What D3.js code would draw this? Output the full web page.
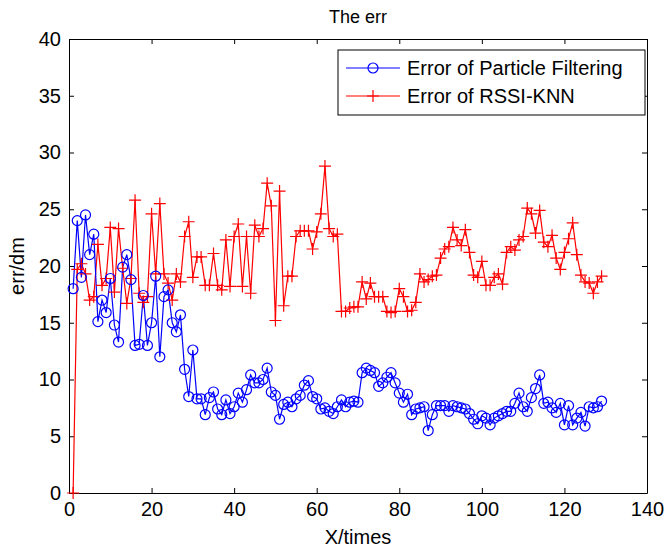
<!DOCTYPE html>
<html>
<head>
<meta charset="utf-8">
<script src="https://cdn.jsdelivr.net/npm/d3@7"></script>
<style>
  body { margin: 0; background: #fff; }
  svg text { font-family: "Liberation Sans", Arial, Helvetica, sans-serif; fill: #000; }
</style>
</head>
<body>
<div id="chart"></div>
<script>
// error of particle filtering, one value per step (x = 1..129)
const pfErr = [
  18, 24, 19, 24.5, 21, 22.8, 15.1, 17, 15.9, 18.9,
  14.8, 13.3, 19.9, 21, 18.8, 13, 13.1, 17.4, 13, 15,
  19.1, 12, 17.3, 17.9, 15, 14.2, 15.7, 10.9, 8.5, 12.6,
  8.3, 8.3, 6.9, 8.4, 8.9, 7.4, 6.9, 8.2, 7, 7.6,
  8.8, 8, 9.1, 10.4, 9.7, 9.7, 10, 11, 8.9, 8.6,
  6.5, 7.8, 8, 7.6, 8.3, 8.6, 9.5, 9.9, 8.5, 8.3,
  7.4, 7.5, 7.2, 7, 7.6, 8.2, 7.6, 8, 8.1, 8,
  10.6, 11, 10.8, 10.6, 9.4, 9.7, 10.2, 10.6, 9.7, 8.8,
  8, 8.7, 6.9, 7.4, 7.5, 7.6, 5.5, 6.9, 7.7, 7.7,
  7.7, 7.2, 7.7, 7.6, 7.5, 7.4, 7, 6.5, 6.1, 6.8,
  6.6, 6, 6.6, 6.8, 7, 7.2, 7.2, 7.9, 8.8, 7.6,
  7.2, 8.4, 9.2, 10.4, 7.9, 8, 7.5, 7.1, 7.9, 6,
  7.7, 6, 6.6, 7.1, 5.9, 7.6, 7.5, 7.6, 8.1
];

// error of RSSI-KNN (x = 1..129)
const knnErr = [
  0, 19.7, 20.2, 19.3, 17, 17.3, 21.9, 18.3, 18.9, 23.4,
  17.7, 23.3, 19.8, 16.7, 18.9, 25.8, 17.6, 16.8, 17.3, 24.6,
  19.3, 25.5, 19.3, 18.5, 17, 19.3, 18.6, 22.6, 23.9, 19,
  20.8, 20.8, 18.3, 18.3, 21.1, 18.3, 17.9, 22.3, 18.2, 22.6,
  23.7, 18.2, 22.6, 17.6, 23.6, 22.6, 23.3, 27.3, 25.3, 15.2,
  26.6, 16.5, 19.1, 19.1, 22.6, 23.1, 23.1, 23.1, 21.5, 23,
  24.6, 28.8, 23.3, 22.6, 22.8, 16, 16, 16.3, 16.4, 16.4,
  18.6, 17.1, 18.5, 17.3, 17.3, 17.3, 16, 15.9, 16, 18,
  17.3, 16, 16.1, 16.8, 19.3, 18.6, 18.8, 19.1, 19.2, 20.7,
  21.5, 21.7, 23.4, 22.3, 21.8, 23.2, 21.2, 19.2, 19, 20.4,
  18.3, 18.3, 19, 19.3, 18.4, 21.2, 21.7, 21.4, 22.3, 22.6,
  25.1, 24.6, 22.9, 24.9, 22.1, 21.7, 22.7, 20.7, 19.7, 21.2,
  22.4, 23.8, 21, 19.2, 18.6, 18.5, 17.6, 18.6, 19.1
];

const xTicks = [0, 20, 40, 60, 80, 100, 120, 140];
const yTicks = [0, 5, 10, 15, 20, 25, 30, 35, 40];
const seriesNames = ["Error of Particle Filtering", "Error of RSSI-KNN"];
const seriesColors = ["#0000ff", "#ff0000"];

const W = 671, H = 551;
const margin = { top: 39, right: 24, bottom: 58, left: 69 };
const width = W - margin.left - margin.right;
const height = H - margin.top - margin.bottom;

const svg = d3.select("#chart").append("svg")
  .attr("width", W)
  .attr("height", H);

const g = svg.append("g")
  .attr("transform", `translate(${margin.left},${margin.top})`);

const x = d3.scaleLinear().domain([0, 140]).range([0, width]);
const y = d3.scaleLinear().domain([0, 40]).range([height, 0]);

// matlab style box with inward ticks on all four sides
function styleAxis(sel) {
  sel.selectAll("path.domain").attr("stroke", "#000").attr("stroke-width", 1);
  sel.selectAll(".tick line").attr("stroke", "#000");
  sel.selectAll(".tick text").style("font-size", "20px");
}

g.append("g")
  .attr("transform", `translate(0,${height})`)
  .call(d3.axisBottom(x).tickValues(xTicks).tickSize(-5).tickSizeOuter(0).tickPadding(9))
  .call(styleAxis);

g.append("g")
  .call(d3.axisTop(x).tickValues(xTicks).tickSize(-5).tickSizeOuter(0).tickFormat(""))
  .call(styleAxis);

g.append("g")
  .call(d3.axisLeft(y).tickValues(yTicks).tickSize(-5).tickSizeOuter(0).tickPadding(8))
  .call(styleAxis);

g.append("g")
  .attr("transform", `translate(${width},0)`)
  .call(d3.axisRight(y).tickValues(yTicks).tickSize(-5).tickSizeOuter(0).tickFormat(""))
  .call(styleAxis);

const line = d3.line()
  .x((d, i) => x(i + 1))
  .y(d => y(d));

// red series is drawn first, blue on top
const allSeries = [pfErr, knnErr];

[1, 0].forEach(k => {
  g.append("path")
    .datum(allSeries[k])
    .attr("fill", "none")
    .attr("stroke", seriesColors[k])
    .attr("stroke-width", 1.2)
    .attr("d", line);
});

// plus markers for knn
g.append("g").selectAll("path")
  .data(knnErr)
  .join("path")
  .attr("d", (d, i) => {
    const cx = x(i + 1), cy = y(d), s = 6;
    return `M${cx - s},${cy}H${cx + s}M${cx},${cy - s}V${cy + s}`;
  })
  .attr("stroke", seriesColors[1])
  .attr("stroke-width", 1.2);

// circle markers for particle filtering
g.append("g").selectAll("circle")
  .data(pfErr)
  .join("circle")
  .attr("cx", (d, i) => x(i + 1))
  .attr("cy", d => y(d))
  .attr("r", 5)
  .attr("fill", "none")
  .attr("stroke", seriesColors[0])
  .attr("stroke-width", 1.2);

// title and axis labels
svg.append("text")
  .attr("x", margin.left + width / 2)
  .attr("y", 23)
  .attr("text-anchor", "middle")
  .style("font-size", "18px")
  .text("The err");

svg.append("text")
  .attr("x", margin.left + width / 2)
  .attr("y", 544)
  .attr("text-anchor", "middle")
  .style("font-size", "20px")
  .text("X/times");

svg.append("text")
  .attr("transform", `translate(24,${margin.top + height / 2}) rotate(-90)`)
  .attr("text-anchor", "middle")
  .style("font-size", "20px")
  .text("err/dm");

// legend
const legend = svg.append("g").attr("transform", "translate(338,50)");
legend.append("rect")
  .attr("width", 307)
  .attr("height", 65)
  .attr("fill", "#fff")
  .attr("stroke", "#000");

seriesNames.forEach((name, k) => {
  const ly = 18 + k * 28;
  const row = legend.append("g").attr("transform", `translate(0,${ly})`);
  row.append("line")
    .attr("x1", 8).attr("x2", 62)
    .attr("stroke", seriesColors[k])
    .attr("stroke-width", 1.2);
  if (k === 0) {
    row.append("circle")
      .attr("cx", 35).attr("r", 5)
      .attr("fill", "none")
      .attr("stroke", seriesColors[k])
      .attr("stroke-width", 1.2);
  } else {
    row.append("path")
      .attr("d", "M29,0H41M35,-6V6")
      .attr("stroke", seriesColors[k])
      .attr("stroke-width", 1.2);
  }
  row.append("text")
    .attr("x", 69)
    .attr("dy", "0.35em")
    .style("font-size", "20px")
    .text(name);
});
</script>
</body>
</html>
